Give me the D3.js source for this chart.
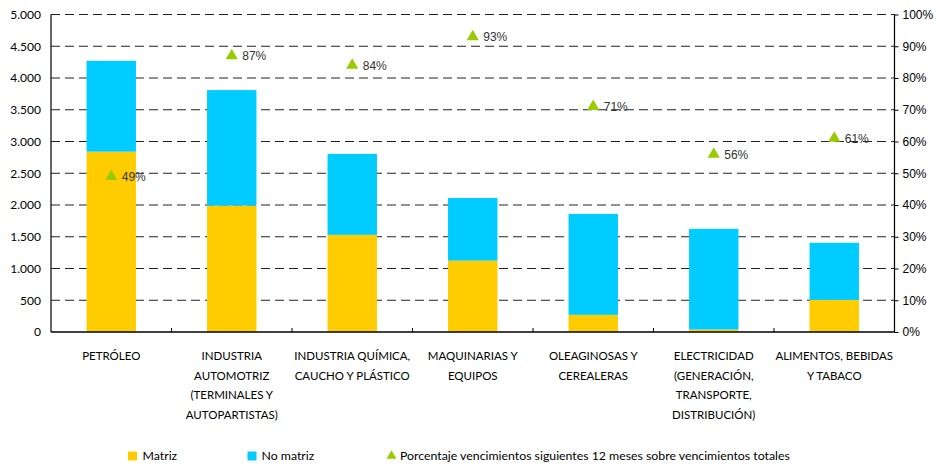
<!DOCTYPE html>
<html>
<head>
<meta charset="utf-8">
<script src="https://cdn.jsdelivr.net/npm/d3@7"></script>
<style>
  html, body { margin: 0; padding: 0; background: #fff; }
  svg { display: block; }
</style>
</head>
<body>
<svg id="chart" width="936" height="466"></svg>
<script>
// Sector labels (one entry per line of the wrapped label)
const categories = [
  ["PETRÓLEO"],
  ["INDUSTRIA", "AUTOMOTRIZ", "(TERMINALES Y", "AUTOPARTISTAS)"],
  ["INDUSTRIA QUÍMICA,", "CAUCHO Y PLÁSTICO"],
  ["MAQUINARIAS Y", "EQUIPOS"],
  ["OLEAGINOSAS Y", "CEREALERAS"],
  ["ELECTRICIDAD", "(GENERACIÓN,", "TRANSPORTE,", "DISTRIBUCIÓN)"],
  ["ALIMENTOS, BEBIDAS", "Y TABACO"]
];
// Maturities by creditor type
const matriz    = [2840, 1990, 1530, 1125, 270, 40, 505];
const noMatriz  = [1430, 1820, 1275, 985, 1590, 1585, 900];
// Share of maturities due in the next 12 months (%)
const porcentaje = [49, 87, 84, 93, 71, 56, 61];

const leftTicks  = [0, 500, 1000, 1500, 2000, 2500, 3000, 3500, 4000, 4500, 5000];
const rightTicks = [0, 10, 20, 30, 40, 50, 60, 70, 80, 90, 100];

const seriesNames = ["Matriz", "No matriz", "Porcentaje vencimientos siguientes 12 meses sobre vencimientos totales"];
const colors = { matriz: "#FFCC00", noMatriz: "#00CCFF", pct: "#99CC00" };

const svg = d3.select("#chart");
const plot = { left: 51, right: 894.5, top: 14.5, bottom: 332 };

const x = d3.scaleBand()
  .domain(d3.range(categories.length))
  .range([plot.left, plot.right])
  .paddingInner(0.59)
  .paddingOuter(0.295);
const step = x.step();

const y = d3.scaleLinear().domain([0, 5000]).range([plot.bottom, plot.top]);
const yPct = d3.scaleLinear().domain([0, 100]).range([plot.bottom, plot.top]);

const esLocale = d3.formatLocale({ decimal: ",", thousands: ".", grouping: [3], currency: ["$", ""] });
const fmt = esLocale.format(",d");

// Dashed horizontal gridlines
svg.append("g")
  .selectAll("line")
  .data(leftTicks.filter(d => d > 0))
  .join("line")
  .attr("x1", plot.left).attr("x2", plot.right)
  .attr("y1", d => y(d)).attr("y2", d => y(d))
  .attr("stroke", "#222")
  .attr("stroke-width", 1)
  .attr("stroke-dasharray", "9,5");

// Stacked bars
const stackData = categories.map((c, i) => ({ i, matriz: matriz[i], noMatriz: noMatriz[i] }));
const stack = d3.stack().keys(["matriz", "noMatriz"])(stackData);

svg.append("g")
  .selectAll("g")
  .data(stack)
  .join("g")
  .attr("fill", d => colors[d.key])
  .selectAll("rect")
  .data(d => d)
  .join("rect")
  .attr("x", d => x(d.data.i))
  .attr("width", x.bandwidth())
  .attr("y", d => y(d[1]))
  .attr("height", d => y(d[0]) - y(d[1]));

// Axis frame lines
svg.append("line")
  .attr("x1", plot.left).attr("x2", plot.left)
  .attr("y1", plot.top).attr("y2", plot.bottom)
  .attr("stroke", "#000").attr("stroke-width", 1.2);
svg.append("line")
  .attr("x1", plot.right).attr("x2", plot.right)
  .attr("y1", plot.top).attr("y2", plot.bottom)
  .attr("stroke", "#000").attr("stroke-width", 1.2);
svg.append("line")
  .attr("x1", plot.left).attr("x2", plot.right)
  .attr("y1", plot.bottom).attr("y2", plot.bottom)
  .attr("stroke", "#000").attr("stroke-width", 1.5);

// Category separators on the bottom axis (inward ticks)
svg.append("g")
  .selectAll("line")
  .data(d3.range(1, categories.length))
  .join("line")
  .attr("x1", d => plot.left + d * step).attr("x2", d => plot.left + d * step)
  .attr("y1", plot.bottom).attr("y2", plot.bottom - 4)
  .attr("stroke", "#000").attr("stroke-width", 1);

// Left axis (amounts)
const leftAxis = svg.append("g")
  .attr("transform", `translate(${plot.left},0)`)
  .call(d3.axisLeft(y).tickValues(leftTicks).tickSize(0).tickPadding(10).tickFormat(fmt));
leftAxis.select(".domain").remove();
leftAxis.selectAll("text")
  .attr("font-family", "Lato, 'Open Sans', sans-serif")
  .attr("font-size", "12px")
  .attr("fill", "#000");

// Right axis (percent)
const rightAxis = svg.append("g")
  .attr("transform", `translate(${plot.right},0)`)
  .call(d3.axisRight(yPct).tickValues(rightTicks).tickSize(4).tickPadding(4).tickFormat(d => d + "%"));
rightAxis.select(".domain").remove();
rightAxis.selectAll("line").attr("stroke", "#000");
rightAxis.selectAll("text")
  .attr("font-family", "'Liberation Sans', Arial, sans-serif")
  .attr("font-size", "12px")
  .attr("fill", "#000");

// Category labels
const labelG = svg.append("g")
  .attr("font-family", "Lato, 'Open Sans', sans-serif")
  .attr("font-size", "11.5px")
  .attr("fill", "#000")
  .attr("text-anchor", "middle");
categories.forEach((lines, i) => {
  const t = labelG.append("text")
    .attr("x", x(i) + x.bandwidth() / 2)
    .attr("y", 360);
  lines.forEach((ln, k) => {
    t.append("tspan")
      .attr("x", x(i) + x.bandwidth() / 2)
      .attr("y", 360 + k * 19.5)
      .text(ln);
  });
});

// Percent markers
const tri = d3.symbol().type(d3.symbolTriangle).size(64);
const pctG = svg.append("g");
pctG.selectAll("path")
  .data(porcentaje)
  .join("path")
  .attr("d", tri)
  .attr("transform", (d, i) => `translate(${x(i) + x.bandwidth() / 2},${yPct(d)})`)
  .attr("fill", colors.pct);
pctG.selectAll("text")
  .data(porcentaje)
  .join("text")
  .attr("x", (d, i) => x(i) + x.bandwidth() / 2 + 10.5)
  .attr("y", d => yPct(d))
  .attr("dy", "0.36em")
  .attr("font-family", "'Liberation Sans', Arial, sans-serif")
  .attr("font-size", "12px")
  .attr("fill", "#333")
  .text(d => d + "%");

// Legend
const legend = svg.append("g")
  .attr("font-family", "Lato, 'Open Sans', sans-serif")
  .attr("font-size", "12.3px")
  .attr("fill", "#000");
const legY = 456;
legend.append("rect").attr("x", 128).attr("y", legY - 4.5).attr("width", 9).attr("height", 9).attr("fill", colors.matriz);
legend.append("text").attr("x", 142.5).attr("y", legY).attr("dy", "0.35em").text(seriesNames[0]);
legend.append("rect").attr("x", 247.5).attr("y", legY - 4.5).attr("width", 9).attr("height", 9).attr("fill", colors.noMatriz);
legend.append("text").attr("x", 261.5).attr("y", legY).attr("dy", "0.35em").text(seriesNames[1]);
legend.append("path")
  .attr("d", d3.symbol().type(d3.symbolTriangle).size(42))
  .attr("transform", `translate(391.5,${legY})`)
  .attr("fill", colors.pct);
legend.append("text").attr("x", 400).attr("y", legY).attr("dy", "0.35em").text(seriesNames[2]);
</script>
</body>
</html>
